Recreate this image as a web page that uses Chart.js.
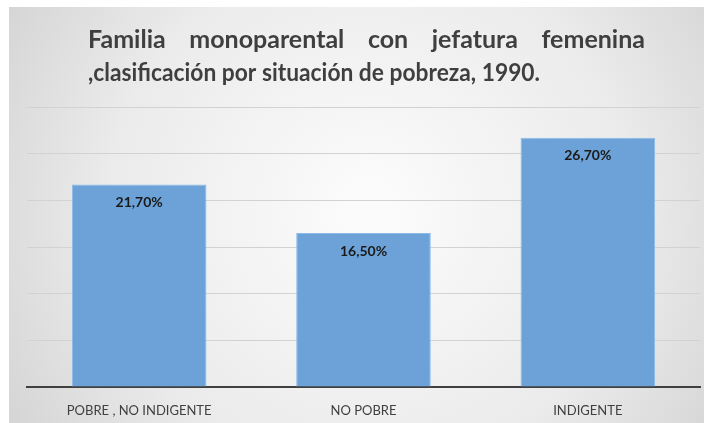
<!DOCTYPE html>
<html>
<head>
<meta charset="utf-8">
<script src="https://cdn.jsdelivr.net/npm/chart.js@4.4.1/dist/chart.umd.min.js"></script>
<style>
  html, body { margin: 0; padding: 0; background: #fff; }
  #chart { display: block; }
</style>
</head>
<body>
<canvas id="chart" width="704" height="423"></canvas>
<script>
const categories = ['POBRE , NO INDIGENTE', 'NO POBRE', 'INDIGENTE'];
const values = [21.7, 16.5, 26.7];
const valueLabels = ['21,70%', '16,50%', '26,70%'];
const titleLines = ['Familia monoparental con jefatura femenina', ',clasificación por situación de pobreza, 1990.'];

// gray radial background, white strip at top/left like the screenshot
const background = {
    id: 'background',
    beforeDraw(chart) {
        const ctx = chart.ctx;
        ctx.save();
        ctx.fillStyle = '#ffffff';
        ctx.fillRect(0, 0, chart.width, chart.height);
        const g = ctx.createRadialGradient(370, 210, 20, 370, 210, 460);
        g.addColorStop(0, '#fbfbfb');
        g.addColorStop(0.55, '#ebebeb');
        g.addColorStop(1, '#cfcfcf');
        ctx.fillStyle = g;
        ctx.fillRect(9, 7, chart.width - 9, chart.height - 7);
        ctx.restore();
    }
};

// first line justified between 88 and 645, second line left aligned
// (second line squeezed a little, calibri in the original is narrower)
const titleDraw = {
    id: 'titleDraw',
    afterDraw(chart) {
        const ctx = chart.ctx;
        ctx.save();
        ctx.font = 'bold 25px Lato';
        ctx.fillStyle = '#3f3f3f';
        ctx.textBaseline = 'alphabetic';
        const left = 88, right = 645;
        const words = titleLines[0].split(' ');
        const wordsW = words.reduce((s, w) => s + ctx.measureText(w).width, 0);
        const gap = (right - left - wordsW) / (words.length - 1);
        let x = left;
        words.forEach(w => {
            ctx.fillText(w, x, 48);
            x += ctx.measureText(w).width + gap;
        });
        const sx = Math.min(1, 452 / ctx.measureText(titleLines[1]).width);
        ctx.translate(left, 81);
        ctx.scale(sx, 1);
        ctx.fillText(titleLines[1], 0, 0);
        ctx.restore();
    }
};

const barLabels = {
    id: 'barLabels',
    afterDatasetsDraw(chart) {
        const ctx = chart.ctx;
        const meta = chart.getDatasetMeta(0);
        ctx.save();
        ctx.font = 'bold 14px Lato';
        ctx.fillStyle = '#1a1a1a';
        ctx.textAlign = 'center';
        ctx.textBaseline = 'middle';
        meta.data.forEach((bar, i) => {
            ctx.fillText(valueLabels[i], bar.x, bar.y + 18);
        });
        ctx.restore();
    }
};

const data = {
    labels: categories,
    datasets: [{
        data: values,
        backgroundColor: 'rgb(108, 162, 215)',
        borderColor: 'rgb(140, 186, 232)',
        borderWidth: 1,
        categoryPercentage: 1,
        barPercentage: 0.6
    }]
};

const config = {
    type: 'bar',
    data: data,
    options: {
        responsive: false,
        animation: false,
        layout: {
            padding: { left: 27, right: 4, top: 107, bottom: 0 }
        },
        plugins: {
            legend: { display: false },
            tooltip: { enabled: false }
        },
        scales: {
            x: {
                grid: { display: false },
                border: { color: '#404040', width: 2 },
                ticks: {
                    color: '#404040',
                    font: { family: 'Lato', size: 13 },
                    padding: 8
                },
                afterFit(scale) { scale.height = 36; }
            },
            y: {
                min: 0,
                max: 30,
                ticks: { display: false, stepSize: 5 },
                border: { display: false },
                grid: { color: '#d2d2d2', lineWidth: 1, drawTicks: false },
                afterFit(scale) { scale.width = 0; }
            }
        }
    },
    plugins: [background, titleDraw, barLabels]
};

new Chart(document.getElementById('chart'), config);
</script>
</body>
</html>
